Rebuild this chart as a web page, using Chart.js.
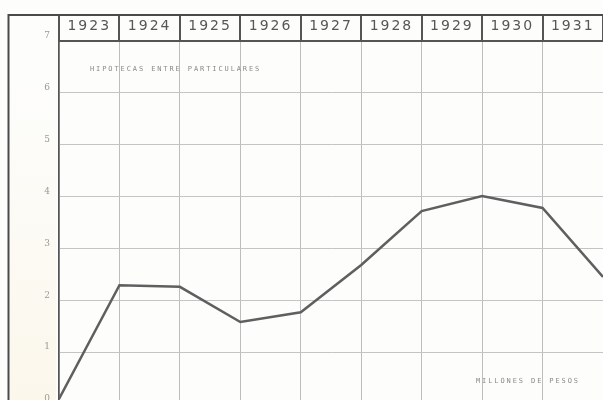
<!DOCTYPE html>
<html>
<head>
<meta charset="utf-8">
<script src="https://cdn.jsdelivr.net/npm/chart.js@4/dist/chart.umd.min.js"></script>
<style>
  html, body { margin: 0; background: #fdfdfc; overflow: hidden; }
  #wrap { width: 603px; height: 400px; overflow: hidden; }
  canvas { display: block; }
</style>
</head>
<body>
<div id="wrap"><canvas id="chart" width="603" height="404"></canvas></div>
<script>
// Data (millones de pesos, value at the start of each year)
const years = ["1923", "1924", "1925", "1926", "1927", "1928", "1929", "1930", "1931"];
const boundaries = [1923, 1924, 1925, 1926, 1927, 1928, 1929, 1930, 1931, 1932];
const values = [0.1, 2.29, 2.26, 1.58, 1.77, 2.68, 3.72, 4.01, 3.78, 2.45];
const yTicks = [0, 1, 2, 3, 4, 5, 6, 7];

const title = "HIPOTECAS ENTRE PARTICULARES";
const unit = "MILLONES DE PESOS";

const dark = "#555";

// paper, frame lines and the small printed notes
const paper = {
  id: "paper",
  beforeDraw(chart) {
    const ctx = chart.ctx;
    ctx.save();
    ctx.fillStyle = "#fdfdfc";
    ctx.fillRect(0, 0, chart.width, chart.height);
    // cream tint on the left margin
    const g = ctx.createLinearGradient(0, 80, 0, 400);
    g.addColorStop(0, "rgba(250,242,222,0)");
    g.addColorStop(1, "rgba(250,242,222,0.55)");
    ctx.fillStyle = g;
    ctx.fillRect(10, 41, 46, 363);
    ctx.restore();
    ctx.letterSpacing = "2px";
  },
  afterDraw(chart) {
    const ctx = chart.ctx;
    ctx.save();
    ctx.strokeStyle = "#4a4a4a";
    ctx.lineWidth = 2;
    ctx.beginPath();
    ctx.moveTo(8, 15);
    ctx.lineTo(chart.width, 15);
    ctx.moveTo(8.5, 14);
    ctx.lineTo(8.5, chart.height);
    ctx.stroke();

    ctx.fillStyle = "#8a8a8a";
    ctx.font = "7px 'DejaVu Sans Mono'";
    ctx.letterSpacing = "1.9px";
    ctx.textBaseline = "middle";
    ctx.textAlign = "left";
    ctx.fillText(title, 90, 69);
    ctx.fillText(unit, 476, 381);
    ctx.restore();
  }
};

new Chart(document.getElementById("chart"), {
  type: "line",
  data: {
    datasets: [{
      data: values.map((v, i) => ({ x: boundaries[i], y: v })),
      borderColor: "#5f5f5f",
      borderWidth: 2.5,
      pointRadius: 0,
      tension: 0,
      xAxisID: "x",
      yAxisID: "y"
    }]
  },
  options: {
    responsive: false,
    animation: false,
    layout: { padding: { top: 15, left: 0, right: 0, bottom: 0 } },
    plugins: { legend: { display: false }, tooltip: { enabled: false } },
    scales: {
      years: {
        type: "category",
        labels: years,
        position: "top",
        offset: true,
        grid: {
          offset: true,
          drawOnChartArea: false,
          drawTicks: true,
          tickLength: 26,
          color: dark,
          lineWidth: 2
        },
        border: { display: true, color: dark, width: 2 },
        ticks: {
          color: "#575757",
          font: { family: "'DejaVu Sans'", size: 14 },
          padding: -20,
          maxRotation: 0,
          autoSkip: false
        },
        afterFit(scale) { scale.height = 26; scale.paddingLeft = 0; scale.paddingRight = 0; }
      },
      x: {
        type: "linear",
        min: boundaries[0],
        max: boundaries[boundaries.length - 1],
        afterBuildTicks(scale) { scale.ticks = boundaries.map(v => ({ value: v })); },
        grid: {
          drawTicks: false,
          color: (c) => (c.index === 0 ? dark : "#bdbdbd"),
          lineWidth: (c) => (c.index === 0 ? 1.5 : 1)
        },
        border: { display: false },
        ticks: { display: false },
        afterFit(scale) { scale.height = 0; scale.paddingLeft = 0; scale.paddingRight = 0; }
      },
      y: {
        type: "linear",
        min: 0,
        max: 7,
        afterBuildTicks(scale) { scale.ticks = yTicks.map(v => ({ value: v })); },
        grid: {
          drawTicks: false,
          color: (c) => (c.tick && c.tick.value === 7 ? dark : "#c4c4c4"),
          lineWidth: (c) => (c.tick && c.tick.value === 7 ? 2 : 1)
        },
        border: { display: true, color: dark, width: 1.5 },
        ticks: {
          color: "#999",
          font: { family: "'DejaVu Serif'", size: 9 },
          padding: 7,
          labelOffset: -5
        },
        afterFit(scale) { scale.width = 59; scale.paddingTop = 0; scale.paddingBottom = 0; }
      }
    }
  },
  plugins: [paper]
});
</script>
</body>
</html>
